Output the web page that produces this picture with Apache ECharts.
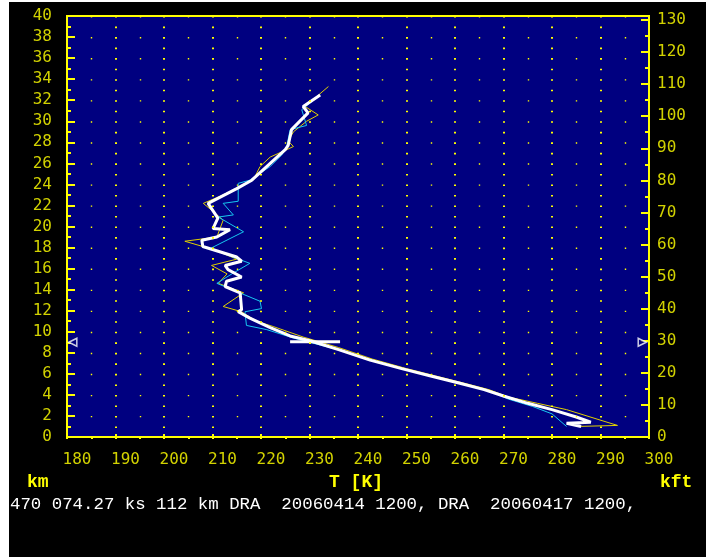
<!DOCTYPE html>
<html><head><meta charset="utf-8">
<script src="https://cdn.jsdelivr.net/npm/echarts@6/dist/echarts.min.js"></script>
<style>html,body{margin:0;padding:0;background:#fff;}#c{width:706px;height:557px;}</style>
</head><body><div id="c"></div>
<script>
// Temperature profiles: [T (K), altitude (km)]
const yellowProfile = [[285,1.0],[293.5,1.1],[283,2.6],[277,3.2],[271,3.8],[267,4.5],[262,5.1],[256,5.8],[250,6.5],[243,7.4],[236,8.5],[228.7,9.5],[222.5,10.5],[219.1,11.0],[216.0,11.9],[212.2,12.4],[216.4,13.7],[211.2,14.6],[213,15.5],[209.8,16.3],[215,16.9],[210.2,17.8],[204.3,18.6],[210.9,19.0],[212.2,20.6],[210.2,21.4],[208.1,22.2],[212.2,23.0],[218.4,24.4],[219.8,25.7],[221.9,26.6],[225.3,27.3],[226.7,27.6],[225.6,28.1],[226.7,29.0],[229.4,30.0],[231.8,30.6],[229.1,31.4],[233.9,33.3]];
const cyanProfile = [[283,1.0],[280,2.2],[276,2.9],[271,3.6],[267,4.4],[262,5.0],[256,5.7],[250,6.4],[243,7.3],[235,8.4],[226.7,9.4],[221.2,10.2],[217.0,10.6],[216.7,11.9],[220.1,12.2],[219.8,12.9],[210.9,14.6],[214,15.5],[217.7,16.5],[209.5,17.9],[216.4,19.5],[211.2,20.9],[214.3,21.1],[212.2,22.2],[215.3,22.4],[215.3,24.1],[217.7,24.4],[221.9,25.7],[224.3,26.8],[225.3,27.6],[226,29.2],[229.4,29.6],[228.4,31.1],[232.2,32.5]];
const whiteProfile = [[286,1.0],[283,1.3],[288,1.4],[285,1.9],[280,2.6],[275,3.2],[270,3.9],[266,4.5],[261,5.1],[255,5.8],[249,6.5],[242.5,7.3],[236,8.3],[230.1,9.15],[226.0,9.6],[221.9,10.4],[217.7,11.3],[215.3,11.9],[216.0,12.1],[215.7,13.7],[212.6,14.3],[212.9,14.8],[216.0,15.2],[213.2,15.9],[212.6,16.3],[216.0,16.7],[215.0,17.1],[208.0,18.1],[207.8,18.7],[210.9,19.0],[213.6,19.7],[210.1,19.8],[211.1,20.8],[209.1,22.2],[212.9,23.1],[215.0,23.6],[218.1,24.4],[221.9,26.0],[225.0,27.3],[225.6,27.7],[226.3,29.2],[229.7,30.8],[228.7,31.4],[232.2,32.5]];
const tropopauseBar = [[226.0,9.05],[236.3,9.05]];
const tropopauseMarkerT = [181.2, 298.6];
const tropopauseKm = 9.0;
const xTicks = [180,190,200,210,220,230,240,250,260,270,280,290,300];
const kmMax = 40;
const kftMax = kmMax / 0.3048;
const footerText = '470 074.27 ks 112 km DRA  20060414 1200, DRA  20060417 1200,';

const Y = '#ffff00';
const LBL = '#d2d200';
const chart = echarts.init(document.getElementById('c'), null, {renderer:'canvas'});
const lineSeries = (data, color, width) => ({
  type:'line', data, showSymbol:false, symbol:'none', xAxisIndex:0, yAxisIndex:0,
  lineStyle:{color, width}, animation:false, silent:true, z:3
});
chart.setOption({
  backgroundColor:'#000',
  animation:false,
  grid:{left:67, top:16, width:582, height:421, show:true, backgroundColor:'#000080', borderColor:Y, borderWidth:2},
  xAxis:[{
    type:'value', min:xTicks[0], max:xTicks[xTicks.length-1], interval:10, position:'bottom', z:5,
    axisLine:{show:false},
    axisTick:{show:true, inside:true, length:3, lineStyle:{color:Y, width:2}},
    minorTick:{show:true, splitNumber:2, length:1, lineStyle:{color:Y, width:2}},
    splitLine:{show:true, lineStyle:{color:Y, width:2, type:[1.6, 8.925]}},
    minorSplitLine:{show:true, lineStyle:{color:Y, width:1.4, type:[1.4, 19.65]}},
    axisLabel:{color:LBL, fontFamily:'DejaVu Sans Mono', fontSize:16, margin:15, padding:[0,0,0,20]}
  },{
    type:'value', min:180, max:300, interval:5, position:'top', z:5,
    axisLine:{show:false}, axisLabel:{show:false}, splitLine:{show:false},
    axisTick:{show:true, inside:true, length:2, lineStyle:{color:Y, width:2}}
  }],
  yAxis:[{
    type:'value', min:0, max:kmMax, interval:2, position:'left', z:5,
    axisLine:{show:false}, splitLine:{show:false},
    axisTick:{show:true, inside:true, length:8, lineStyle:{color:Y, width:2}},
    minorTick:{show:true, splitNumber:2, length:4, lineStyle:{color:Y, width:2}},
    axisLabel:{color:LBL, fontFamily:'DejaVu Sans Mono', fontSize:16, margin:15}
  },{
    type:'value', min:0, max:kftMax, interval:10, position:'right', z:5,
    axisLine:{show:false}, splitLine:{show:false},
    axisTick:{show:true, inside:true, length:8, lineStyle:{color:Y, width:2}},
    minorTick:{show:true, splitNumber:2, length:4, lineStyle:{color:Y, width:2}},
    axisLabel:{color:LBL, fontFamily:'DejaVu Sans Mono', fontSize:16, margin:8, showMaxLabel:false,
      formatter:v => (Math.abs(v/10 - Math.round(v/10)) < 1e-6 ? String(Math.round(v)) : '')}
  }],
  series:[
    lineSeries(yellowProfile, '#e0d000', 1),
    lineSeries(cyanProfile, '#18c8f0', 1),
    lineSeries(whiteProfile, '#ffffff', 3),
    lineSeries(tropopauseBar, '#ffffff', 3),
    {type:'scatter', xAxisIndex:0, yAxisIndex:0, silent:true, z:6, symbol:'triangle', symbolSize:[8,8],
     itemStyle:{color:'#000080', borderColor:'#ffffff', borderWidth:1.5},
     data:[{value:[tropopauseMarkerT[0], tropopauseKm], symbolRotate:90},
           {value:[tropopauseMarkerT[1], tropopauseKm], symbolRotate:-90}]}
  ],
  graphic:[
    {type:'rect', shape:{x:0,y:0,width:9,height:557}, style:{fill:'#fff'}, silent:true},
    {type:'rect', shape:{x:0,y:0,width:706,height:2}, style:{fill:'#fff'}, silent:true},
    {type:'text', left:27, top:473, style:{text:'km', fill:Y, font:'bold 18px "Liberation Mono"'}},
    {type:'text', left:329, top:473, style:{text:'T [K]', fill:Y, font:'bold 18px "Liberation Mono"'}},
    {type:'text', left:660, top:473, style:{text:'kft', fill:Y, font:'bold 18px "Liberation Mono"'}},
    {type:'text', left:10, top:496, style:{text:footerText, fill:'#ffffff', font:'17.4px "Liberation Mono"'}}
  ]
});
</script></body></html>
